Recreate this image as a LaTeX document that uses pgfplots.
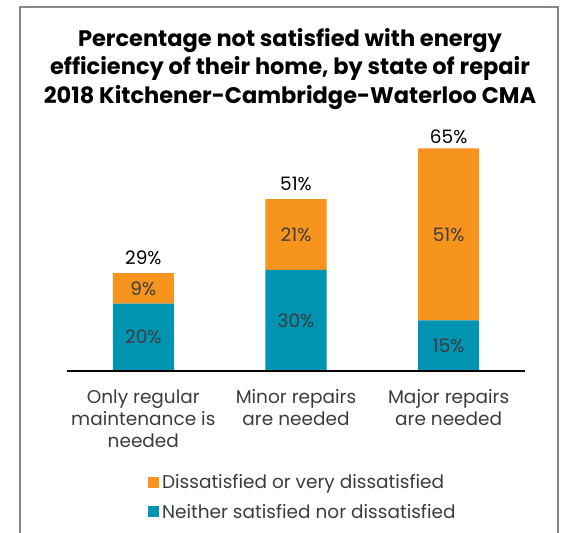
\documentclass[border=0pt]{standalone}
\usepackage{pgfplots}
\pgfplotsset{compat=1.18}
\usepackage{fontspec}
\setmainfont{Poppins}
\definecolor{dissat}{HTML}{F7941D}
\definecolor{neither}{HTML}{0093B2}
\definecolor{framegrey}{HTML}{8C8581}
\definecolor{labgrey}{HTML}{3C3C3C}
\definecolor{baseline}{HTML}{CCCCCC}

\pgfplotstableread{
x y label
0 10.0 20\%
0 24.5 9\%
1 15.0 30\%
1 40.5 21\%
2 7.5 15\%
2 40.5 51\%
}\inside
\pgfplotstableread{
x y label
0 29 29\%
1 51 51\%
2 65 65\%
}\totals

\begin{document}
\begin{tikzpicture}
\path[use as bounding box] (0pt,0pt) rectangle (571pt,533pt);
\draw[framegrey, line width=2pt] (20pt,0pt) -- (20pt,526pt) -- (558pt,526pt) -- (558pt,0pt);
\node[align=center, font=\fontsize{22.5}{28.5}\selectfont\bfseries, text=black]
  at (290pt,464pt) {Percentage not satisfied with energy\\efficiency of their home, by state of repair\\2018 Kitchener-Cambridge-Waterloo CMA};
\begin{axis}[
  at={(67pt,162pt)}, anchor=south west,
  scale only axis, width=458pt, height=231pt,
  xmin=-0.5, xmax=2.5, ymin=0, ymax=68.5,
  ybar stacked, bar width=61pt,
  axis x line*=bottom, axis y line=none,
  axis line style={baseline, line width=2pt},
  axis on top,
  xtick={0,1,2}, major tick length=0pt,
  xticklabels={{Only regular\\maintenance is\\needed},{Minor repairs\\are needed},{Major repairs\\are needed}},
  xticklabel style={align=center, text=labgrey, font=\fontsize{18.5}{22}\selectfont, yshift=-15pt},
  reverse legend,
  legend style={draw=none, fill=none, at={(0.17,-0.43)}, anchor=north west,
    font=\fontsize{18.5}{22}\selectfont, text=labgrey, row sep=10pt,
    /tikz/every odd column/.append style={column sep=1pt}},
  legend cell align=left,
  legend image code/.code={\fill[#1] (0pt,-5.5pt) rectangle (11pt,5.5pt);},
]
\addplot[fill=neither, draw=none] coordinates {(0,20) (1,30) (2,15)};
\addlegendentry{Neither satisfied nor dissatisfied}
\addplot[fill=dissat, draw=none] coordinates {(0,9) (1,21) (2,51)};
\addlegendentry{Dissatisfied or very dissatisfied}
\end{axis}
\begin{axis}[
  at={(67pt,162pt)}, anchor=south west,
  scale only axis, width=458pt, height=231pt,
  xmin=-0.5, xmax=2.5, ymin=0, ymax=68.5,
  hide axis,
]
\addplot[draw=none, mark=none, nodes near coords, point meta=explicit symbolic,
  every node near coord/.append style={anchor=center, text=labgrey, font=\fontsize{18.5}{22}\selectfont}]
  table[meta=label] {\inside};
\addplot[draw=none, mark=none, nodes near coords, point meta=explicit symbolic,
  every node near coord/.append style={anchor=south, yshift=5pt, text=black, font=\fontsize{18.5}{22}\selectfont}]
  table[meta=label] {\totals};
\end{axis}
\end{tikzpicture}
\end{document}
